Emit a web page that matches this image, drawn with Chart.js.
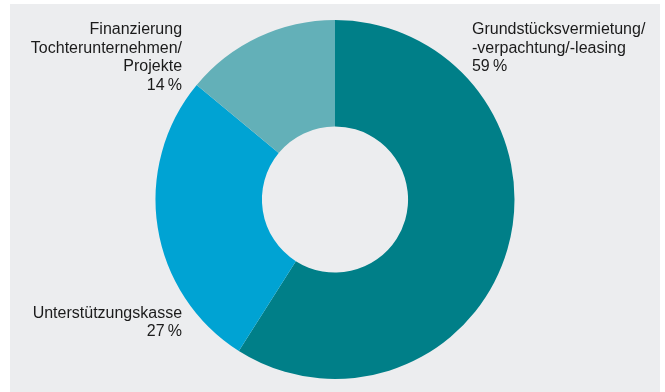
<!DOCTYPE html>
<html lang="de">
<head>
<meta charset="utf-8">
<script src="https://cdn.jsdelivr.net/npm/chart.js@4/dist/chart.umd.min.js"></script>
<style>
  html, body { margin: 0; padding: 0; background: #ffffff; }
  body { width: 665px; height: 392px; position: relative; overflow: hidden; }
  #panel { position: absolute; left: 10px; top: 4px; width: 650px; height: 388px; background: #ecedef; }
  #chart { display: block; }
</style>
</head>
<body>
<div id="panel"><canvas id="chart" width="650" height="388"></canvas></div>
<script>
// Share of holdings by purpose, clockwise from 12 o'clock
const categories = [
  ['Grundstücksvermietung/', '-verpachtung/-leasing'],
  ['Unterstützungskasse'],
  ['Finanzierung', 'Tochterunternehmen/', 'Projekte']
];
const shares = [59, 27, 14];
const shareLabels = ['59\u2009%', '27\u2009%', '14\u2009%'];
const sliceColors = ['#007f88', '#00a3d3', '#63b0b8'];

const FONT = '16px "Liberation Sans", Arial, sans-serif';
const LINE = 18.5;

// Writes each slice's caption beside the ring
const sliceCaptions = {
  id: 'sliceCaptions',
  afterDraw(chart) {
    const arc = chart.getDatasetMeta(0).data[0];
    if (!arc) return;
    const { x: cx, y: cy, outerRadius: r } = arc.getProps(['x', 'y', 'outerRadius'], true);
    const ctx = chart.ctx;
    ctx.save();
    ctx.font = FONT;
    ctx.fillStyle = '#1b1b1b';
    ctx.textBaseline = 'alphabetic';

    // anchor per slice: [x, first baseline, alignment]
    const anchors = [
      [cx + r * 0.763, cy - r * 0.922, 'left'],
      [cx - r * 0.852, cy + r * 0.66, 'right'],
      [cx - r * 0.852, cy - r * 0.922, 'right']
    ];
    categories.forEach((lines, i) => {
      const [ax, ay, align] = anchors[i];
      ctx.textAlign = align;
      const all = lines.concat([shareLabels[i]]);
      all.forEach((t, k) => ctx.fillText(t, ax, ay + k * LINE));
    });
    ctx.restore();
  }
};

new Chart(document.getElementById('chart'), {
  type: 'doughnut',
  data: {
    labels: categories.map(c => c.join(' ')),
    datasets: [{
      data: shares,
      backgroundColor: sliceColors,
      borderWidth: 0,
      hoverOffset: 0
    }]
  },
  options: {
    responsive: false,
    animation: false,
    cutout: '40.7%',
    layout: { padding: { top: 16, bottom: 13, left: 0, right: 0 } },
    plugins: {
      legend: { display: false },
      tooltip: { enabled: false }
    },
    events: []
  },
  plugins: [sliceCaptions]
});
</script>
</body>
</html>
